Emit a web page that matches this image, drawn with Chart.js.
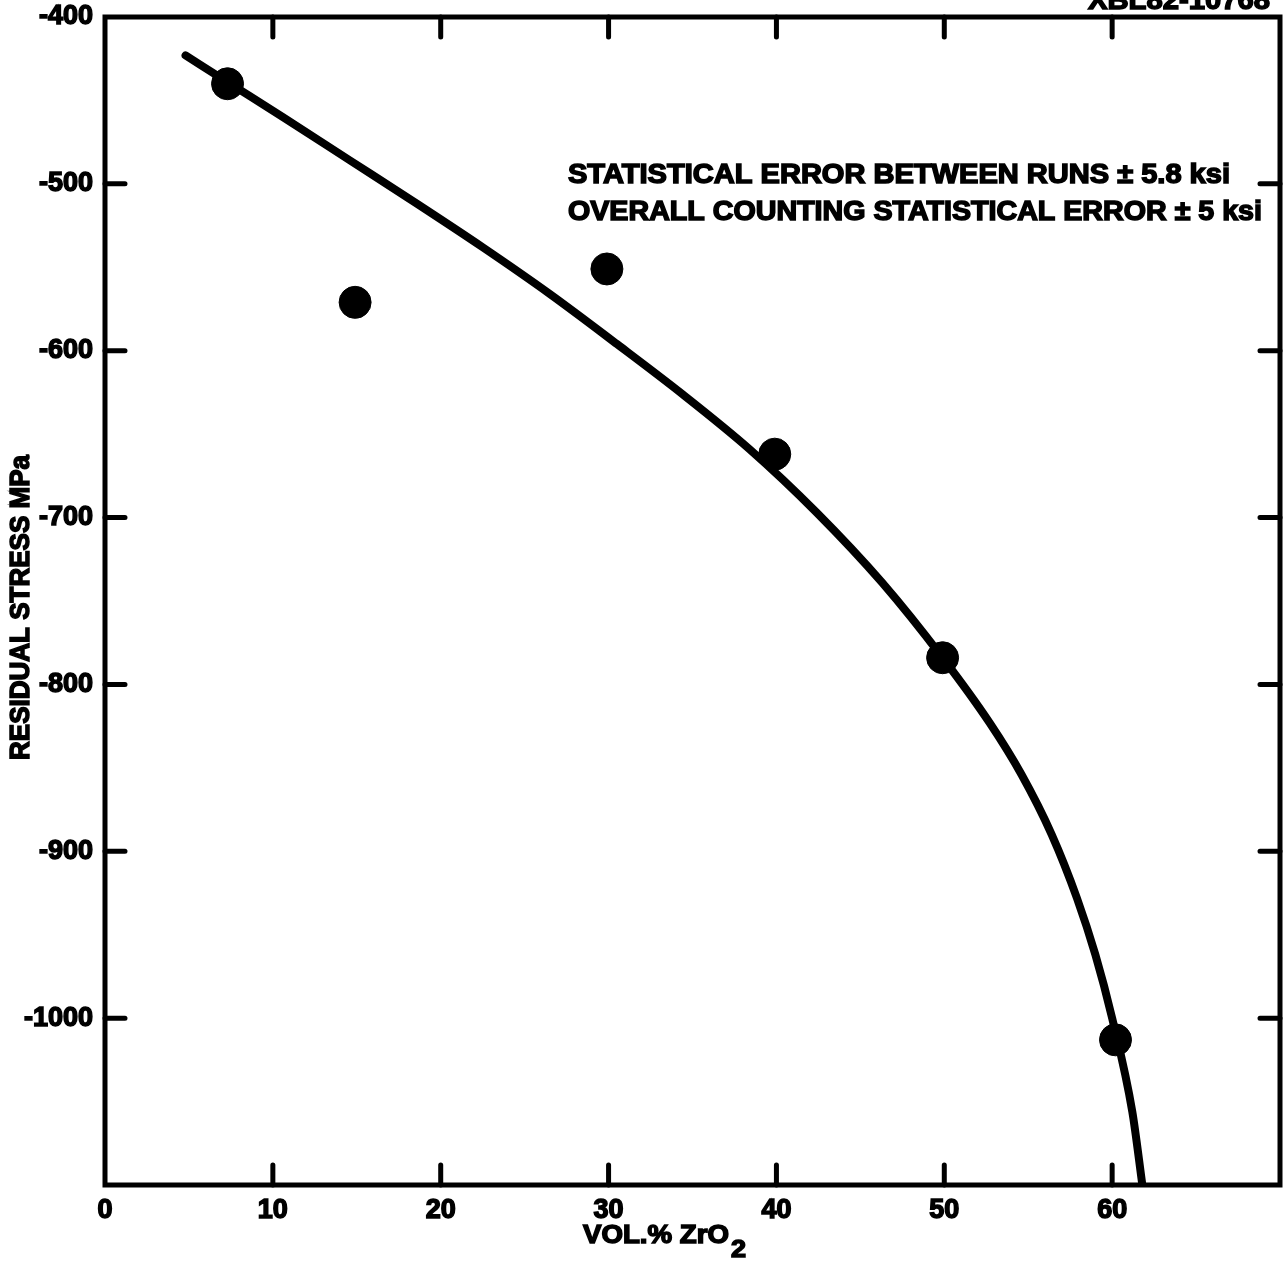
<!DOCTYPE html>
<html>
<head>
<meta charset="utf-8">
<script src="https://cdn.jsdelivr.net/npm/chart.js@4.4.1/dist/chart.umd.min.js"></script>
<style>
  html, body { margin: 0; padding: 0; background: #fff; }
  #grafica { display: block; }
</style>
</head>
<body>
<canvas id="grafica" width="1283" height="1262"></canvas>
<script>
// ---------------- datos ----------------
const volZrO2 = [7.3, 14.9, 29.9, 39.9, 49.9, 60.2];
const tension = [-440, -571, -551, -662, -784, -1013];

// curva ajustada (leída a ojo de la figura)
const curvaX = [4.8, 7.3, 10.6, 14.6, 18.6, 22.5, 26.5, 30.5, 34.4, 38.4, 42.4, 46.3, 49.9, 52.7, 54.6, 56.4, 57.9, 59.0, 60.0, 61.2, 61.8];
const curvaY = [-423, -439, -460, -486, -512, -538, -566, -596, -626, -659, -697, -739, -784, -823, -854, -890, -928, -962, -1000, -1056, -1100];

const ticksX = [0, 10, 20, 30, 40, 50, 60];
const ticksY = [-400, -500, -600, -700, -800, -900, -1000];

const notas = [
  "STATISTICAL ERROR BETWEEN RUNS \u00b1 5.8 ksi",
  "OVERALL COUNTING STATISTICAL ERROR \u00b1 5 ksi"
];
const tituloY = "RESIDUAL STRESS MPa";
const codigo = "XBL82-10768";

const FUENTE = "'Liberation Sans', Arial, sans-serif";

// texto ajustado a un ancho dado
function textoAncho(ctx, txt, x, y, ancho, size) {
  ctx.font = "bold " + size + "px " + FUENTE;
  const w = ctx.measureText(txt).width;
  ctx.save();
  ctx.translate(x, y);
  ctx.scale(ancho / w, 1);
  ctx.fillText(txt, 0, 0);
  ctx.strokeText(txt, 0, 0);
  ctx.restore();
}

// marco, marcas hacia dentro y textos
const marco = {
  id: "marco",
  afterDraw(chart) {
    const ctx = chart.ctx;
    const a = chart.chartArea;
    const sx = chart.scales.x, sy = chart.scales.y;
    ctx.save();
    ctx.strokeStyle = "#000";
    ctx.fillStyle = "#000";
    ctx.lineWidth = 5;
    ctx.lineCap = "round";
    ctx.strokeRect(a.left, a.top, a.right - a.left, a.bottom - a.top);

    const L = 20;
    ctx.beginPath();
    ticksX.forEach(v => {
      if (v === 0) return;
      const px = sx.getPixelForValue(v);
      ctx.moveTo(px, a.top); ctx.lineTo(px, a.top + L);
      ctx.moveTo(px, a.bottom); ctx.lineTo(px, a.bottom - L);
    });
    ticksY.forEach(v => {
      if (v === -400) return;
      const py = sy.getPixelForValue(v);
      ctx.moveTo(a.left, py); ctx.lineTo(a.left + L, py);
      ctx.moveTo(a.right, py); ctx.lineTo(a.right - L, py);
    });
    ctx.stroke();

    ctx.lineWidth = 1.5;
    ctx.textBaseline = "alphabetic";
    ctx.textAlign = "left";
    textoAncho(ctx, notas[0], 568, 183, 662, 27);
    textoAncho(ctx, notas[1], 568, 220, 694, 27);

    // código de figura, cortado arriba
    textoAncho(ctx, codigo, 1088, 9, 182, 28);

    // título eje Y
    ctx.save();
    ctx.translate(29, 760);
    ctx.rotate(-Math.PI / 2);
    textoAncho(ctx, tituloY, 0, 0, 305, 27);
    ctx.restore();

    // título eje X con subíndice
    textoAncho(ctx, "VOL.% ZrO", 583, 1243, 146, 26);
    textoAncho(ctx, "2", 731, 1257, 15, 24);
    ctx.restore();
  }
};

const ctx = document.getElementById("grafica").getContext("2d");

new Chart(ctx, {
  type: "scatter",
  data: {
    datasets: [
      {
        data: volZrO2.map((x, i) => ({ x, y: tension[i] })),
        backgroundColor: "#000",
        borderColor: "#000",
        pointRadius: 16,
        pointHoverRadius: 16,
        showLine: false,
        order: 0
      },
      {
        data: curvaX.map((x, i) => ({ x, y: curvaY[i] })),
        showLine: true,
        borderColor: "#000",
        borderWidth: 8,
        borderCapStyle: "round",
        pointRadius: 0,
        cubicInterpolationMode: "monotone",
        order: 1
      }
    ]
  },
  plugins: [marco],
  options: {
    responsive: false,
    animation: false,
    layout: { autoPadding: false, padding: { top: 17, right: 3, left: 0, bottom: 0 } },
    plugins: { legend: { display: false }, tooltip: { enabled: false } },
    scales: {
      x: {
        type: "linear",
        min: 0, max: 70,
        grid: { display: false, drawTicks: false },
        border: { display: false },
        afterFit: s => { s.height = 77; s.paddingLeft = 0; s.paddingRight = 0; },
        afterBuildTicks: s => { s.ticks = ticksX.map(v => ({ value: v })); },
        ticks: {
          padding: 9,
          color: "#000",
          textStrokeColor: "#000",
          textStrokeWidth: 1.5,
          font: { family: FUENTE, size: 27, weight: "bold" },
          callback: v => String(v)
        }
      },
      y: {
        type: "linear",
        min: -1100, max: -400,
        grid: { display: false, drawTicks: false },
        border: { display: false },
        afterFit: s => { s.width = 105; s.paddingTop = 0; s.paddingBottom = 0; },
        afterBuildTicks: s => { s.ticks = ticksY.map(v => ({ value: v })); },
        ticks: {
          padding: 12,
          color: "#000",
          textStrokeColor: "#000",
          textStrokeWidth: 1.5,
          font: { family: FUENTE, size: 27, weight: "bold" },
          callback: v => String(v)
        }
      }
    }
  }
});
</script>
</body>
</html>
